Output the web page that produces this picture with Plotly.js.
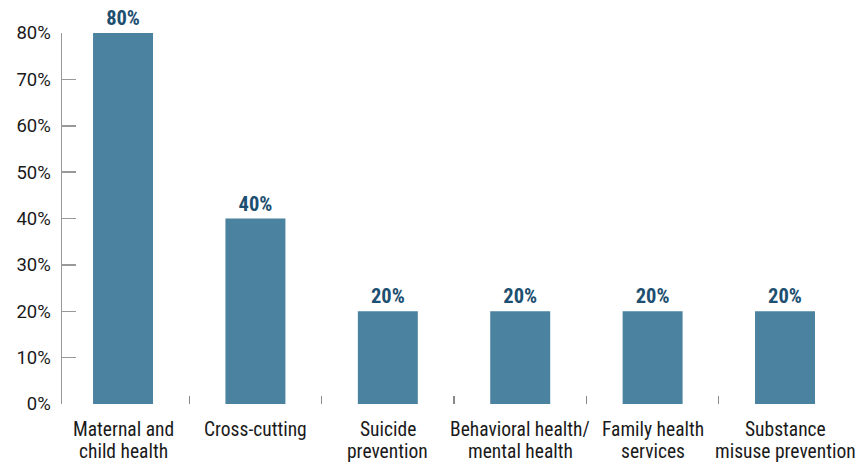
<!DOCTYPE html>
<html>
<head>
<meta charset="utf-8">
<script src="https://cdn.plot.ly/plotly-3.0.1.min.js"></script>
<style>
html,body{margin:0;padding:0;background:#fff;}
#chart{width:859px;height:462px;}
text{font-stretch:condensed !important;}
.ytick text{font-stretch:normal !important;}
</style>
</head>
<body>
<div id="chart"></div>
<script>
const categories = ["Maternal and child health", "Cross-cutting", "Suicide prevention", "Behavioral health/ mental health", "Family health services", "Substance misuse prevention"];
const categoryLines = [["Maternal and", "child health"], ["Cross-cutting"], ["Suicide", "prevention"], ["Behavioral health/", "mental health"], ["Family health", "services"], ["Substance", "misuse prevention"]];
const values = [80, 40, 20, 20, 20, 20];
const valueLabels = values.map(v => v + "%");
const yTickVals = [0, 10, 20, 30, 40, 50, 60, 70, 80];
const yTickLabels = ["0%", "10%", "20%", "30%", "40%", "50%", "60%", "70%", "80%"];

const FONT = "Roboto, 'Liberation Sans', sans-serif";

const trace = {
  type: "bar",
  x: categories,
  y: values,
  text: valueLabels,
  textposition: "outside",
  cliponaxis: false,
  textfont: {family: FONT, size: 20.5, color: "#1d4f70", weight: "bold"},
  marker: {color: "#4a82a0"},
  width: 0.453,
  hoverinfo: "skip"
};

const annotations = [];
categories.forEach((c, i) => {
  categoryLines[i].forEach((line, j) => {
    annotations.push({
      x: c, xref: "x",
      y: 0, yref: "paper",
      yanchor: "middle", xanchor: "center",
      yshift: -25 - 22 * j,
      text: line,
      showarrow: false,
      font: {family: FONT, size: 19.5, color: "#1a1a1a"}
    });
  });
});

const layout = {
  width: 859, height: 462,
  margin: {l: 62, r: 7, t: 33, b: 58},
  paper_bgcolor: "#fff", plot_bgcolor: "#fff",
  showlegend: false,
  font: {family: FONT, size: 19, color: "#1a1a1a"},
  annotations: annotations,
  xaxis: {
    type: "category",
    range: [-0.461, 5.506],
    showline: false,
    showgrid: false,
    zeroline: false,
    showticklabels: false,
    ticks: "inside",
    tickson: "boundaries",
    ticklen: 8,
    tickwidth: 1.2,
    tickcolor: "#8a8a8a"
  },
  yaxis: {
    range: [0, 80],
    tickmode: "array",
    tickvals: yTickVals,
    ticktext: yTickLabels,
    showline: true,
    linecolor: "#999",
    linewidth: 1.5,
    showgrid: false,
    zeroline: false,
    ticks: "inside",
    ticklen: 14,
    tickwidth: 1.5,
    tickcolor: "#999",
    tickfont: {family: FONT, size: 18.5, color: "#1a1a1a"},
    ticklabelstandoff: 6
  }
};

Plotly.newPlot("chart", [trace], layout, {displayModeBar: false, staticPlot: true});
</script>
</body>
</html>
